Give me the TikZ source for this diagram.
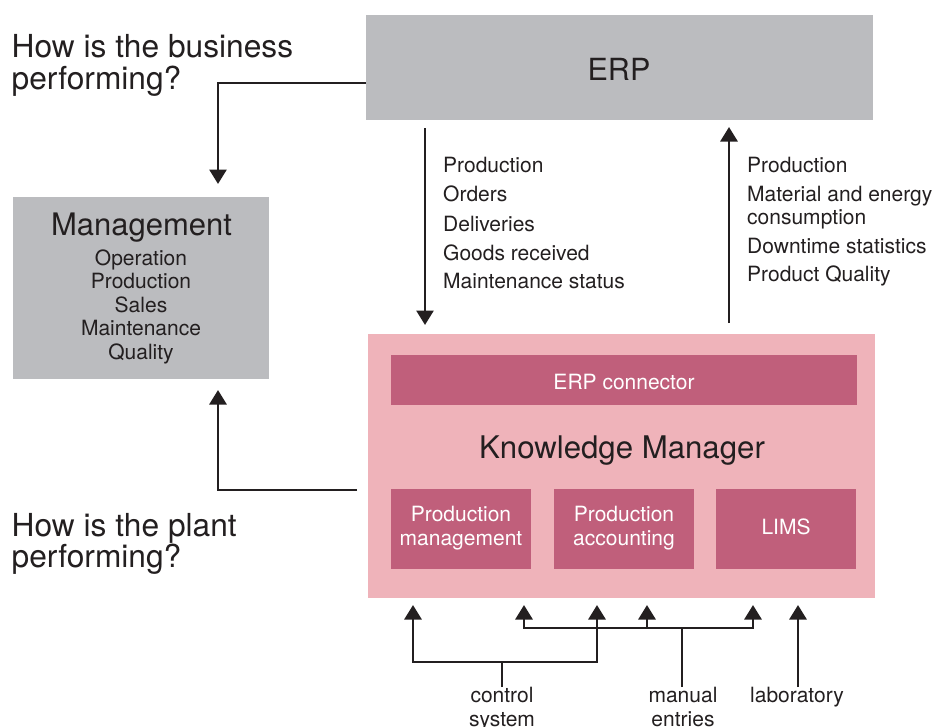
\documentclass[tikz,border=0pt]{standalone}
\usepackage{fontspec}
\setmainfont{TeX Gyre Heros}
\usetikzlibrary{arrows.meta}
\definecolor{erpgray}{HTML}{BBBCBF}
\definecolor{kmpink}{HTML}{EFB3BA}
\definecolor{kmdark}{HTML}{C05F7B}
\definecolor{txtc}{HTML}{231F20}
\tikzset{
  box/.style={draw=none, inner sep=0, outer sep=0, anchor=center},
  big/.style={inner sep=0, text=txtc, font=\fontsize{30.5}{33}\selectfont},
  question/.style={inner sep=0, text=txtc, font=\fontsize{31.7}{34}\selectfont},
  small/.style={inner sep=0, text=txtc, font=\fontsize{21}{23.5}\selectfont},
  wsmall/.style={inner sep=0, text=white, font=\fontsize{21}{23.5}\selectfont},
  ln/.style={draw=txtc, line width=2.8pt},
  arr/.style={ln, -{Triangle[width=17pt,length=14.5pt]}},
}
\begin{document}
\begin{tikzpicture}[x=1pt,y=-1pt]
\useasboundingbox (0,0) rectangle (948,726);
% boxes
\node[box, fill=erpgray, minimum width=507pt, minimum height=105pt] (erp) at (619.5,67.5) {};
\node[box, fill=erpgray, minimum width=256pt, minimum height=182pt] (mgmt) at (141,288) {};
\node[box, fill=kmpink, minimum width=507pt, minimum height=264pt] (km) at (621.5,466) {};
\node[box, fill=kmdark, minimum width=466pt, minimum height=50pt] (erpc) at (624,380) {};
\node[box, fill=kmdark, minimum width=140pt, minimum height=80pt] (pm) at (461,529) {};
\node[box, fill=kmdark, minimum width=140pt, minimum height=80pt] (pa) at (624,529) {};
\node[box, fill=kmdark, minimum width=140pt, minimum height=80pt] (lims) at (786,529) {};
% box texts
\node[big, anchor=base] (erpt) at (619,80.5) {ERP};
\node[big, anchor=base, font=\fontsize{31}{33}\selectfont] (mgmtt) at (141.5,235.7) {Management};
\node[small, anchor=base] (m1) at (141,265) {Operation};
\node[small, anchor=base] (m2) at (141,288.5) {Production};
\node[small, anchor=base] (m3) at (141,312) {Sales};
\node[small, anchor=base] (m4) at (141,335.7) {Maintenance};
\node[small, anchor=base] (m5) at (141,359.3) {Quality};
\node[big, anchor=base, font=\fontsize{31.2}{34}\selectfont] (kmt) at (622,458.3) {Knowledge Manager};
\node[wsmall, anchor=base] (erpct) at (624,389.3) {ERP connector};
\node[wsmall, anchor=base] (pm1) at (461,521) {Production};
\node[wsmall, anchor=base] (pm2) at (461,545) {management};
\node[wsmall, anchor=base] (pa1) at (624,521) {Production};
\node[wsmall, anchor=base] (pa2) at (624,545) {accounting};
\node[wsmall, anchor=base] (limst) at (786,534) {LIMS};
% questions
\node[question, anchor=base west] (q1a) at (11.5,57) {How is the business};
\node[question, anchor=base west] (q1b) at (11.5,89) {performing?};
\node[question, anchor=base west] (q2a) at (11.5,536.7) {How is the plant};
\node[question, anchor=base west] (q2b) at (11.5,567) {performing?};
% data lists
\node[small, anchor=base west] (d1) at (443,172.7) {Production};
\node[small, anchor=base west] (d2) at (443,201.7) {Orders};
\node[small, anchor=base west] (d3) at (443,231) {Deliveries};
\node[small, anchor=base west] (d4) at (443,260) {Goods received};
\node[small, anchor=base west] (d5) at (443,288.3) {Maintenance status};
\node[small, anchor=base west] (u1) at (747,172.7) {Production};
\node[small, anchor=base west] (u2) at (747,201.7) {Material and energy};
\node[small, anchor=base west] (u3) at (747,224.3) {consumption};
\node[small, anchor=base west] (u4) at (747,253) {Downtime statistics};
\node[small, anchor=base west] (u5) at (747,281.5) {Product Quality};
% bottom labels
\node[small, anchor=base] (cs1) at (502,702.7) {control};
\node[small, anchor=base] (cs2) at (502,726) {system};
\node[small, anchor=base] (me1) at (683,702.7) {manual};
\node[small, anchor=base] (me2) at (683,726) {entries};
\node[small, anchor=base] (lab) at (797,702.7) {laboratory};
% connector coordinates
\coordinate (mgin) at (218,184);
\coordinate (mgin2) at (218,390);
\coordinate (kmout) at (357,490);
\coordinate (erpdn0) at (425,128);
\coordinate (erpdn1) at (425,325);
\coordinate (erpup0) at (729,323);
\coordinate (erpup1) at (729,127);
\coordinate (cstem) at (502,687);
\coordinate (cj) at (502,662);
\coordinate (mstem) at (682,687);
\coordinate (mj) at (682,628);
\coordinate (lstem) at (798,687);
\coordinate (in1) at (413,605);
\coordinate (in2) at (524,605);
\coordinate (in3) at (597,605);
\coordinate (in4) at (647,605);
\coordinate (in5) at (753,605);
\coordinate (in6) at (798,605);
% connectors
\draw[arr] ([yshift=-15.5pt]erp.west) -| (mgin);
\draw[arr] (kmout) -| (mgin2);
\draw[arr] (erpdn0) -- (erpdn1);
\draw[arr] (erpup0) -- (erpup1);
\draw[ln] (cstem) -- (cj);
\draw[arr] (cj) -| (in1);
\draw[arr] (cj) -| (in3);
\draw[ln] (mstem) -- (mj);
\draw[arr] (mj) -| (in2);
\draw[arr] (mj) -| (in4);
\draw[arr] (mj) -| (in5);
\draw[arr] (lstem) -- (in6);
\end{tikzpicture}
\end{document}
